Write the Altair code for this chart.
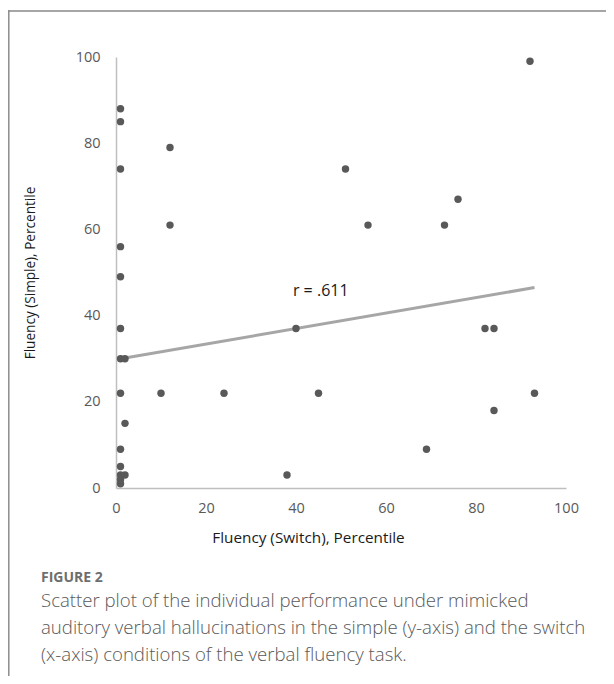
import altair as alt
import pandas as pd

# Data
x_switch = [1, 1, 1, 1, 1, 1, 1, 2, 1, 10, 24, 45, 2, 1, 1, 1, 2, 1, 1,
            12, 12, 51, 56, 40, 38, 92, 76, 73, 82, 84, 93, 84, 69]
y_simple = [88, 85, 74, 56, 49, 37, 30, 30, 22, 22, 22, 22, 15, 9, 5, 3, 3, 2, 1,
            79, 61, 74, 61, 37, 3, 99, 67, 61, 37, 37, 22, 18, 9]

trend_x = [1, 93]
trend_y = [30, 46.5]

annot_text = ["r = .611"]
annot_x = [45.5]
annot_y = [45.6]

tick_values = [0, 20, 40, 60, 80, 100]

caption_head = "FIGURE 2"
caption_lines = [
    "Scatter plot of the individual performance under mimicked",
    "auditory verbal hallucinations in the simple (y-axis) and the switch",
    "(x-axis) conditions of the verbal fluency task.",
]

W, H = 450, 431
FONT = "Open Sans"

pts = pd.DataFrame({"x": x_switch, "y": y_simple})
trend = pd.DataFrame({"x": trend_x, "y": trend_y})
annot = pd.DataFrame({"x": annot_x, "y": annot_y, "t": annot_text})

xscale = alt.Scale(domain=[0, 100], nice=False, zero=False)
yscale = alt.Scale(domain=[0, 100], nice=False, zero=False)

xaxis = alt.Axis(
    values=tick_values, grid=False, ticks=False, domainColor="#bfbfbf", domainWidth=1.5,
    labelFont=FONT, labelFontSize=14.5, labelColor="#595959", labelPadding=13,
    labelFlush=False, labelOverlap=False,
    title="Fluency (Switch), Percentile", titleFont=FONT, titleFontSize=15.3,
    titleFontWeight="normal", titleColor="#1a1a1a",
    titleX=192, titleY=49, titleAlign="center", titleBaseline="middle",
)
yaxis = alt.Axis(
    values=tick_values, grid=False, ticks=False, domainColor="#bfbfbf", domainWidth=1.5,
    labelFont=FONT, labelFontSize=14.5, labelColor="#595959", labelPadding=16,
    labelFlush=False, labelOverlap=False,
    title="Fluency (Simple), Percentile", titleFont=FONT, titleFontSize=13.6,
    titleFontWeight="normal", titleColor="#1a1a1a",
    titleX=-86, titleY=H / 2, titleAngle=-90, titleAlign="center", titleBaseline="middle",
)

points = alt.Chart(pts).mark_circle(size=55, color="#595959", opacity=1).encode(
    x=alt.X("x:Q", scale=xscale, axis=xaxis),
    y=alt.Y("y:Q", scale=yscale, axis=yaxis),
)

line = alt.Chart(trend).mark_line(color="#a6a6a6", strokeWidth=3).encode(
    x=alt.X("x:Q", scale=xscale), y=alt.Y("y:Q", scale=yscale)
)

label = alt.Chart(annot).mark_text(
    font=FONT, fontSize=16, color="#1a1a1a", align="center", baseline="middle"
).encode(x=alt.X("x:Q", scale=xscale), y=alt.Y("y:Q", scale=yscale), text="t:N")

head = alt.Chart(pd.DataFrame({"t": [caption_head]})).mark_text(
    font=FONT, fontSize=14, fontWeight="bold", color="#6e6e6e", align="left", baseline="middle"
).encode(x=alt.value(-75), y=alt.value(521), text="t:N")

cap_layers = []
for i, ln in enumerate(caption_lines):
    cap_layers.append(
        alt.Chart(pd.DataFrame({"t": [ln]})).mark_text(
            font=FONT, fontSize=18.6, fontWeight=300, color="#595959", align="left", baseline="middle"
        ).encode(x=alt.value(-75), y=alt.value(544 + 27 * i), text="t:N")
    )

border_top = alt.Chart(pd.DataFrame({"a": [0]})).mark_rule(color="#a6a6a6", strokeWidth=2).encode(
    x=alt.value(-107), x2=alt.value(490), y=alt.value(-46)
)
border_left = alt.Chart(pd.DataFrame({"a": [0]})).mark_rule(color="#8c8c8c", strokeWidth=1.5).encode(
    x=alt.value(-107.2), y=alt.value(-47), y2=alt.value(620)
)

chart = alt.layer(
    border_top, border_left, line, points, label, head, *cap_layers
).properties(
    width=W, height=H,
    background="white",
    autosize=alt.AutoSizeParams(type="none"),
    padding={"left": 108, "top": 49, "right": 40, "bottom": 188},
).configure_view(stroke=None)

chart.save("out.html", embed_options={"renderer": "svg", "actions": False})
